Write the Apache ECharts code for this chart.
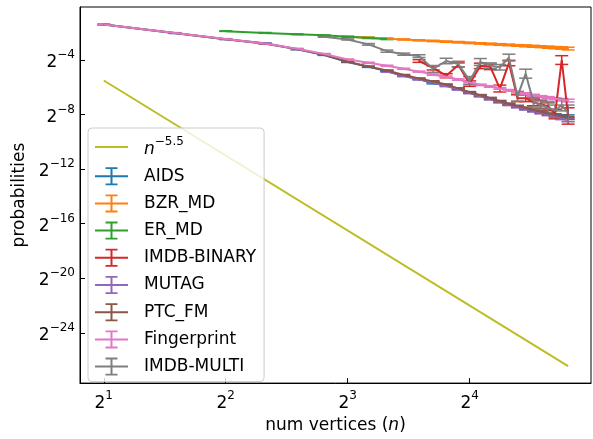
<!DOCTYPE html>
<html>
<head>
<meta charset="utf-8">
<script src="https://cdn.jsdelivr.net/npm/echarts@6/dist/echarts.min.js"></script>
<style>
  body { margin: 0; background: #fff; }
  #main { width: 593px; height: 439px; }
</style>
</head>
<body>
<div id="main"></div>
<script>
var nAll = [2, 3, 4, 5, 6, 7, 8, 9, 10, 11, 12, 13, 14, 15, 16, 17, 18, 19, 20, 21, 22, 23, 24, 25, 26, 27, 28];
var smallErr = [0.02, 0.02, 0.02, 0.03, 0.03, 0.03, 0.03, 0.04, 0.04, 0.04, 0.04, 0.05, 0.05, 0.05, 0.05, 0.05, 0.06, 0.06, 0.06, 0.06, 0.07, 0.07, 0.07, 0.08, 0.08, 0.09, 0.1];

var aidsN = nAll;
var aidsLog2 = [-1.40, -2.03, -2.47, -2.76, -3.21, -3.63, -4.15, -4.5, -4.8, -5.15, -5.4, -5.7, -5.85, -6.12, -6.38, -6.62, -6.82, -7.05, -7.25, -7.4, -7.55, -7.7, -7.83, -7.95, -8.02, -8.1, -8.12];

var bzrN = [8, 9, 10, 11, 12, 13, 14, 15, 16, 17, 18, 19, 20, 21, 22, 23, 24, 25, 26, 27, 28];
var bzrLog2 = [-2.28, -2.36, -2.43, -2.49, -2.55, -2.6, -2.65, -2.69, -2.74, -2.78, -2.82, -2.86, -2.89, -2.93, -2.96, -2.99, -3.02, -3.06, -3.09, -3.12, -3.16];

var erN = [4, 5, 6, 7, 8, 9, 10];
var erLog2 = [-1.88, -2.01, -2.11, -2.19, -2.3, -2.38, -2.46];

var imdbBN = [12, 13, 14, 15, 16, 17, 18, 19, 20, 21, 22, 23, 24, 25, 26, 27, 28];
var imdbBLog2 = [-4.07, -4.58, -5.15, -4.36, -5.73, -4.43, -4.5, -6.09, -4.22, -6.8, -6.8, -7.1, -7.24, -7.38, -7.96, -4.0, -8.1];
var imdbBErr = [0.1, 0.15, 0.15, 0.15, 0.2, 0.2, 0.2, 0.25, 0.2, 0.25, 0.25, 0.25, 0.3, 0.3, 0.35, 0.32, 0.6];

var mutagN = [10, 11, 12, 13, 14, 15, 16, 17, 18, 19, 20, 21, 22, 23, 24, 25, 26, 27, 28];
var mutagLog2 = [-4.85, -5.18, -5.42, -5.65, -5.9, -6.15, -6.42, -6.65, -6.87, -7.08, -7.28, -7.45, -7.6, -7.74, -7.88, -8.0, -8.12, -8.28, -8.42];

var ptcN = nAll;
var ptcLog2 = [-1.39, -2.02, -2.47, -2.81, -3.2, -3.62, -4.12, -4.48, -4.77, -5.1, -5.35, -5.57, -5.8, -6.08, -6.36, -6.58, -6.8, -7.02, -7.22, -7.38, -7.52, -7.66, -7.8, -7.92, -8.03, -8.14, -8.24];

var fingerN = nAll;
var fingerLog2 = [-1.39, -2.01, -2.45, -2.79, -3.17, -3.55, -3.95, -4.2, -4.42, -4.64, -4.85, -5.07, -5.22, -5.43, -5.64, -5.82, -5.94, -6.08, -6.22, -6.36, -6.47, -6.58, -6.68, -6.76, -6.84, -6.91, -6.97];

var imdbMN = [7, 8, 9, 10, 11, 12, 13, 14, 15, 16, 17, 18, 19, 20, 21, 22, 23, 24, 25, 26, 27, 28];
var imdbMLog2 = [-2.29, -2.49, -2.85, -3.35, -3.57, -3.71, -4.65, -4.07, -4.29, -5.51, -4.14, -4.41, -4.53, -3.82, -6.66, -5.0, -7.1, -7.3, -7.5, -7.7, -7.3, -7.9];
var imdbMErr = [0.04, 0.04, 0.06, 0.08, 0.08, 0.1, 0.25, 0.2, 0.2, 0.3, 0.25, 0.2, 0.2, 0.25, 0.35, 0.33, 0.35, 0.3, 0.35, 0.4, 0.43, 0.6];

var powN = [2, 28];
var powLog2 = [-5.5, -26.44];

var xTicks = [1, 2, 3, 4];
var yTicks = [-24, -20, -16, -12, -8, -4];

var datasets = [
    { name: 'AIDS', color: '#1f77b4', n: aidsN, v: aidsLog2, e: smallErr },
    { name: 'BZR_MD', color: '#ff7f0e', n: bzrN, v: bzrLog2, e: smallErr.slice(6) },
    { name: 'ER_MD', color: '#2ca02c', n: erN, v: erLog2, e: smallErr.slice(2, 9) },
    { name: 'IMDB-BINARY', color: '#d62728', n: imdbBN, v: imdbBLog2, e: imdbBErr },
    { name: 'MUTAG', color: '#9467bd', n: mutagN, v: mutagLog2, e: smallErr.slice(8) },
    { name: 'PTC_FM', color: '#8c564b', n: ptcN, v: ptcLog2, e: smallErr },
    { name: 'Fingerprint', color: '#e377c2', n: fingerN, v: fingerLog2, e: smallErr },
    { name: 'IMDB-MULTI', color: '#7f7f7f', n: imdbMN, v: imdbMLog2, e: imdbMErr }
];

var font = 'DejaVu Sans';
var errIcon = 'path://M0,8L33,8L33,10L0,10Z M15.5,0L17.5,0L17.5,18L15.5,18Z M10.5,0L22.5,0L22.5,1.8L10.5,1.8Z M10.5,16.2L22.5,16.2L22.5,18L10.5,18Z';
var lineIcon = 'path://M0,0L0.01,0L0.01,0.01Z M0,18L0.01,18L0.01,17.99Z M0,8L33,8L33,10L0,10Z';

function errRender(color) {
    return function (params, api) {
        var top = api.coord([api.value(0), api.value(2)]);
        var bot = api.coord([api.value(0), api.value(1)]);
        var w = 6.5;
        var st = { stroke: color, lineWidth: 1.5 };
        return {
            type: 'group',
            children: [
                { type: 'line', shape: { x1: top[0], y1: top[1], x2: bot[0], y2: bot[1] }, style: st },
                { type: 'line', shape: { x1: top[0] - w, y1: top[1], x2: top[0] + w, y2: top[1] }, style: st },
                { type: 'line', shape: { x1: bot[0] - w, y1: bot[1], x2: bot[0] + w, y2: bot[1] }, style: st }
            ]
        };
    };
}

var series = [];
var legendData = [{ name: 'pow', icon: lineIcon, itemStyle: { color: '#bcbd22', borderWidth: 0 } }];

datasets.forEach(function (d) {
    var pts = [], bars = [];
    for (var i = 0; i < d.n.length; i++) {
        var x = Math.log2(d.n[i]);
        pts.push([x, d.v[i]]);
        bars.push([x, d.v[i] - d.e[i], d.v[i] + d.e[i]]);
    }
    series.push({
        name: d.name,
        type: 'line',
        data: pts,
        symbol: 'none',
        color: d.color,
        itemStyle: { color: d.color },
        lineStyle: { color: d.color, width: 2 }
    });
    series.push({
        name: d.name,
        type: 'custom',
        data: bars,
        encode: { x: 0, y: [1, 2] },
        itemStyle: { color: d.color },
        renderItem: errRender(d.color)
    });
    legendData.push({ name: d.name, icon: errIcon, itemStyle: { color: d.color, borderWidth: 0 } });
});

series.push({
    name: 'pow',
    type: 'line',
    data: powN.map(function (n, i) { return [Math.log2(n), powLog2[i]]; }),
    symbol: 'none',
    color: '#bcbd22',
    itemStyle: { color: '#bcbd22' },
    lineStyle: { color: '#bcbd22', width: 2 }
});

var powLabel = {
    b: { fontFamily: font, fontSize: 17, color: '#000', lineHeight: 22, verticalAlign: 'bottom' },
    s: { fontFamily: font, fontSize: 12, color: '#000', verticalAlign: 'top' }
};

var chart = echarts.init(document.getElementById('main'));

var option = {
    animation: false,
    grid: {
        left: 80, right: 2, top: 7, bottom: 50,
        show: true, borderColor: '#000', borderWidth: 1, backgroundColor: 'transparent'
    },
    legend: {
        data: legendData,
        orient: 'vertical',
        left: 88,
        top: 128,
        padding: [8, 8, 6, 7],
        itemWidth: 33,
        itemHeight: 18,
        itemGap: 9.2,
        backgroundColor: 'rgba(255,255,255,0.8)',
        borderColor: '#cccccc',
        borderWidth: 1,
        borderRadius: 4,
        selectedMode: false,
        itemStyle: { borderWidth: 0 },
        textStyle: {
            fontFamily: font, fontSize: 17, color: '#000', padding: [0, 0, 0, 11],
            rich: {
                it: { fontFamily: font, fontSize: 17, fontStyle: 'italic', color: '#000', lineHeight: 22, verticalAlign: 'bottom' },
                sup: { fontFamily: font, fontSize: 12, color: '#000', verticalAlign: 'top' }
            }
        },
        formatter: function (name) {
            return name === 'pow' ? '{it|n}{sup|−5.5}' : name;
        }
    },
    xAxis: {
        type: 'value',
        min: 0.805,
        max: 4.995,
        name: '{r|num vertices (}{i|n}{r|)}',
        nameLocation: 'middle',
        nameGap: 32,
        nameTextStyle: {
            rich: {
                r: { fontFamily: font, fontSize: 17, color: '#000' },
                i: { fontFamily: font, fontSize: 17, color: '#000', fontStyle: 'italic' }
            }
        },
        splitLine: { show: false },
        axisLine: { lineStyle: { color: '#000', width: 1 } },
        axisTick: { inside: true, length: 5, customValues: xTicks, lineStyle: { color: '#000' } },
        axisLabel: {
            customValues: xTicks,
            margin: 7,
            formatter: function (v) { return '{b|2}{s|' + v + '}'; },
            rich: powLabel
        }
    },
    yAxis: {
        type: 'value',
        min: -27.69,
        max: -0.11,
        name: 'probabilities',
        nameLocation: 'middle',
        nameGap: 45,
        nameTextStyle: { fontFamily: font, fontSize: 17, color: '#000' },
        splitLine: { show: false },
        axisLine: { show: true, lineStyle: { color: '#000', width: 1 } },
        axisTick: { show: true, inside: true, length: 5, customValues: yTicks, lineStyle: { color: '#000' } },
        axisLabel: {
            customValues: yTicks,
            margin: 5,
            formatter: function (v) { return '{b|2}{s|−' + Math.abs(v) + '}'; },
            rich: powLabel
        }
    },
    series: series
};

chart.setOption(option);
</script>
</body>
</html>
